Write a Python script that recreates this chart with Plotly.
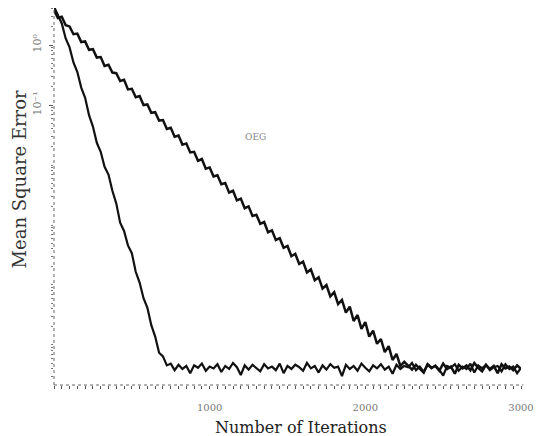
import plotly.graph_objects as go

# ---------------- data ----------------
iterations = list(range(0, 3001, 25))

# log10 of mean square error, fast-converging curve
fast_log_mse = [
    0.64, 0.50, 0.36, 0.11, -0.04, -0.29, -0.45, -0.71, -0.88, -1.17,
    -1.36, -1.63, -1.78, -2.03, -2.16, -2.43, -2.64, -2.96, -3.10, -3.34,
    -3.47, -3.78, -3.96, -4.22, -4.38, -4.67, -4.86, -5.13, -5.19, -5.34,
    -5.31,
    -5.42, -5.33, -5.40, -5.35, -5.47, -5.34, -5.38, -5.31, -5.43, -5.36,
    -5.39, -5.32, -5.45, -5.35, -5.40, -5.30, -5.37, -5.50, -5.34, -5.41,
    -5.33, -5.38, -5.44, -5.32, -5.39, -5.36, -5.42, -5.31, -5.47, -5.35,
    -5.40, -5.33, -5.37, -5.43, -5.30, -5.39, -5.35, -5.46, -5.34, -5.41,
    -5.32, -5.38, -5.36, -5.52, -5.33, -5.40, -5.35, -5.43, -5.31, -5.38,
    -5.44, -5.34, -5.39, -5.32, -5.41, -5.36, -5.48, -5.33, -5.40, -5.35,
    -5.37, -5.30, -5.42, -5.36, -5.45, -5.33, -5.39, -5.34, -5.41, -5.51,
    -5.35, -5.38, -5.32, -5.43, -5.36, -5.40, -5.31, -5.46, -5.34, -5.39,
    -5.33, -5.42, -5.37, -5.35, -5.44, -5.32, -5.40, -5.36, -5.47, -5.38,
]

# log10 of mean square error, slow-converging curve
slow_log_mse = [
    0.58, 0.45, 0.47, 0.33, 0.31, 0.18, 0.19, 0.05, 0.06, -0.08,
    -0.07, -0.21, -0.20, -0.35, -0.33, -0.46, -0.47, -0.60, -0.58, -0.74,
    -0.73, -0.87, -0.85, -1.00, -0.99, -1.13, -1.12, -1.26, -1.25, -1.40,
    -1.38, -1.53, -1.51, -1.66, -1.64, -1.79, -1.78, -1.93, -1.90, -2.06,
    -2.04, -2.19, -2.17, -2.32, -2.30, -2.46, -2.43, -2.59, -2.56, -2.72,
    -2.69, -2.85, -2.83, -2.98, -2.95, -3.12, -3.09, -3.25, -3.22, -3.38,
    -3.35, -3.52, -3.48, -3.65, -3.61, -3.79, -3.74, -3.92, -3.87, -4.06,
    -4.00, -4.19, -4.12, -4.32, -4.25, -4.46, -4.36, -4.60, -4.50, -4.73,
    -4.62, -4.86, -4.76, -4.98, -4.90, -5.12, -5.02, -5.25, -5.15, -5.35,
    -5.28,
    -5.34, -5.41, -5.33, -5.39, -5.46, -5.32, -5.38, -5.35, -5.43, -5.31,
    -5.40, -5.36, -5.48, -5.33, -5.39, -5.34, -5.42, -5.30, -5.38, -5.44,
    -5.33, -5.40, -5.35, -5.47, -5.32, -5.39, -5.36, -5.42, -5.34, -5.40,
]

x_tick_vals = [1000, 2000, 3000]
x_tick_text = ["1000", "2000", "3000"]
y_tick_vals = [1, 0.1]
y_tick_text = ["10⁰", "10⁻¹"]
curve_label = "OEG"

# ---------------- figure ----------------
fast_mse = [10 ** v for v in fast_log_mse]
slow_mse = [10 ** v for v in slow_log_mse]

fig = go.Figure()
fig.add_trace(go.Scatter(x=iterations, y=slow_mse, mode="lines",
                         line=dict(color="#111111", width=2.5), hoverinfo="skip"))
fig.add_trace(go.Scatter(x=iterations, y=fast_mse, mode="lines",
                         line=dict(color="#111111", width=2.2), hoverinfo="skip"))

serif = "DejaVu Serif, Liberation Serif, serif"
plot_h = 377.0  # plot-area height in px (used for paper offsets)

fig.update_layout(
    width=535, height=428,
    margin=dict(l=46, r=22, t=0, b=51),
    paper_bgcolor="white", plot_bgcolor="white",
    showlegend=False,
    xaxis=dict(
        range=[0, 3000], showgrid=False, zeroline=False, showline=False,
        tickmode="array", tickvals=x_tick_vals, ticktext=x_tick_text,
        ticks="outside", ticklen=3, tickcolor="#555555",
        tickfont=dict(family=serif, size=10, color="#777777"),
        ticklabelstandoff=10,
        minor=dict(dtick=50, ticks="outside", ticklen=3, tickcolor="#555555",
                   showgrid=False),
    ),
    yaxis=dict(
        type="log", range=[-5.667, 0.617], showgrid=False, zeroline=False,
        showline=False,
        tickmode="array", tickvals=y_tick_vals, ticktext=y_tick_text,
        tickangle=-90, ticks="outside", ticklen=4, tickcolor="#555555",
        tickfont=dict(family=serif, size=11, color="#777777"),
        ticklabelstandoff=4,
        minor=dict(dtick="D1", ticks="outside", ticklen=2, tickcolor="#777777",
                   showgrid=False),
    ),
    shapes=[
        dict(type="line", xref="paper", yref="paper", x0=0, x1=0, y0=0, y1=1,
             line=dict(color="#666666", width=1, dash="dot")),
        dict(type="line", xref="paper", yref="paper", x0=0, x1=1.005, y0=0, y1=0,
             line=dict(color="#666666", width=1, dash="dot")),
    ],
    annotations=[
        dict(text="Number of Iterations", xref="paper", yref="paper",
             x=0.529, y=-42 / plot_h, showarrow=False, xanchor="center",
             yanchor="middle",
             font=dict(family=serif, size=16, color="#222222")),
        dict(text="Mean Square Error", xref="paper", yref="paper",
             x=-34 / 459.0, y=(385 - 179) / plot_h, showarrow=False, textangle=-90,
             xanchor="center", yanchor="middle",
             font=dict(family=serif, size=18, color="#333333")),
        dict(text=curve_label, xref="paper", yref="paper",
             x=0.431, y=(385 - 137) / plot_h, showarrow=False, xanchor="center",
             yanchor="middle",
             font=dict(family=serif, size=9, color="#888888")),
    ],
)

fig.write_html("out.html")
